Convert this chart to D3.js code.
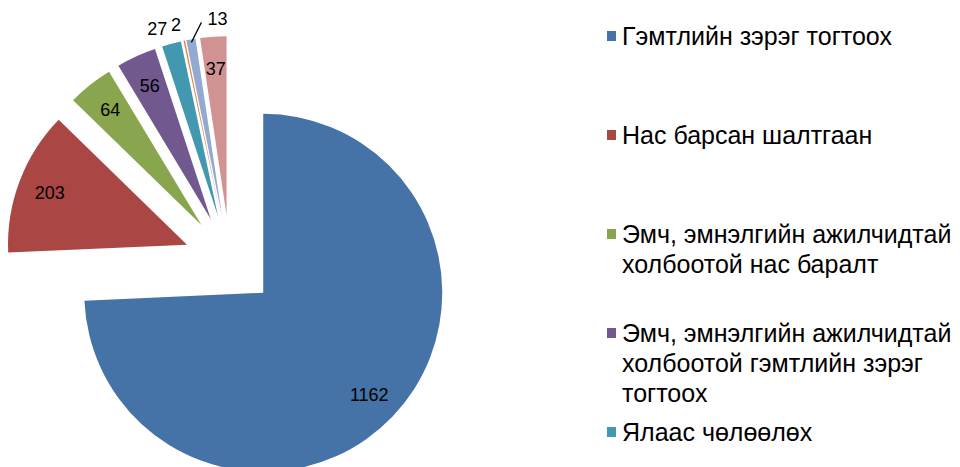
<!DOCTYPE html>
<html>
<head>
<meta charset="utf-8">
<script src="https://cdn.jsdelivr.net/npm/d3@7"></script>
<style>
  body { margin: 0; background: #fff; }
  svg { display: block; font-family: "Liberation Sans", Arial, sans-serif; }
</style>
</head>
<body>
<svg id="chart" width="960" height="467"></svg>
<script>
// slice values, clockwise from 12 o'clock
const values = [1162, 203, 64, 56, 27, 2, 13, 37];
// legend entries visible in the picture (one array per entry, split into lines)
const legendLines = [
    ["Гэмтлийн зэрэг тогтоох"],
    ["Нас барсан шалтгаан"],
    ["Эмч, эмнэлгийн ажилчидтай", "холбоотой нас баралт"],
    ["Эмч, эмнэлгийн ажилчидтай", "холбоотой гэмтлийн зэрэг", "тогтоох"],
    ["Ялаас чөлөөлөх"]
];
const colors = ["#4572A7", "#AA4643", "#89A54E", "#71588F", "#4198AF", "#DB843D", "#93A9CF", "#D19392"];
// which labels sit outside the slice
const outside = [false, false, false, false, true, true, true, false];

const svg = d3.select("#chart");

const cx = 230, cy = 261, radius = 179, explode = 46;

const pie = d3.pie().sort(null).value(d => d);
const arc = d3.arc().innerRadius(0).outerRadius(radius);
const arcs = pie(values);

const dir = a => [Math.sin(a), -Math.cos(a)];

const g = svg.append("g").attr("transform", `translate(${cx},${cy})`);

const slice = g.selectAll("g.slice")
    .data(arcs)
    .join("g")
    .attr("class", "slice")
    .attr("transform", d => {
        const m = (d.startAngle + d.endAngle) / 2;
        const [dx, dy] = dir(m);
        return `translate(${dx * explode},${dy * explode})`;
    });

slice.append("path")
    .attr("d", arc)
    .attr("fill", (d, i) => colors[i]);

// inside labels
slice.filter((d, i) => !outside[i])
    .append("text")
    .attr("x", d => dir((d.startAngle + d.endAngle) / 2)[0] * radius * 0.82)
    .attr("y", d => dir((d.startAngle + d.endAngle) / 2)[1] * radius * 0.82)
    .attr("dy", "0.35em")
    .attr("text-anchor", "middle")
    .attr("font-size", 18)
    .attr("fill", "#000")
    .text(d => d.data);

// outside labels
slice.each(function(d, i) {
    if (!outside[i]) return;
    const m = (d.startAngle + d.endAngle) / 2;
    const [dx, dy] = dir(m);
    const sel = d3.select(this);
    if (d.data === 13) {
        // small slice gets a leader line
        const x0 = dx * (radius - 3), y0 = dy * (radius - 3);
        sel.append("line")
            .attr("x1", x0).attr("y1", y0)
            .attr("x2", x0 + 10).attr("y2", y0 - 20)
            .attr("stroke", "#000").attr("stroke-width", 1.2);
        sel.append("text")
            .attr("x", x0 + 16).attr("y", y0 - 24)
            .attr("dy", "0.35em")
            .attr("font-size", 18)
            .text(d.data);
    } else {
        sel.append("text")
            .attr("x", dx * (radius + 16))
            .attr("y", dy * (radius + 16))
            .attr("dy", "0.35em")
            .attr("text-anchor", "end")
            .attr("font-size", 18)
            .text(d.data);
    }
});

// legend
const legendX = 607, itemGap = 99, lineH = 30, firstY = 36;
const legend = svg.append("g").attr("class", "legend");
const item = legend.selectAll("g")
    .data(legendLines)
    .join("g")
    .attr("transform", (d, i) => `translate(${legendX},${firstY + i * itemGap})`);

item.append("rect")
    .attr("x", 0).attr("y", -5)
    .attr("width", 9).attr("height", 10)
    .attr("fill", (d, i) => colors[i]);

item.append("text")
    .attr("font-size", 25)
    .attr("fill", "#000")
    .selectAll("tspan")
    .data(d => d)
    .join("tspan")
    .attr("x", 15)
    .attr("y", (d, j) => j * lineH)
    .attr("dy", "0.35em")
    .text(d => d);
</script>
</body>
</html>
